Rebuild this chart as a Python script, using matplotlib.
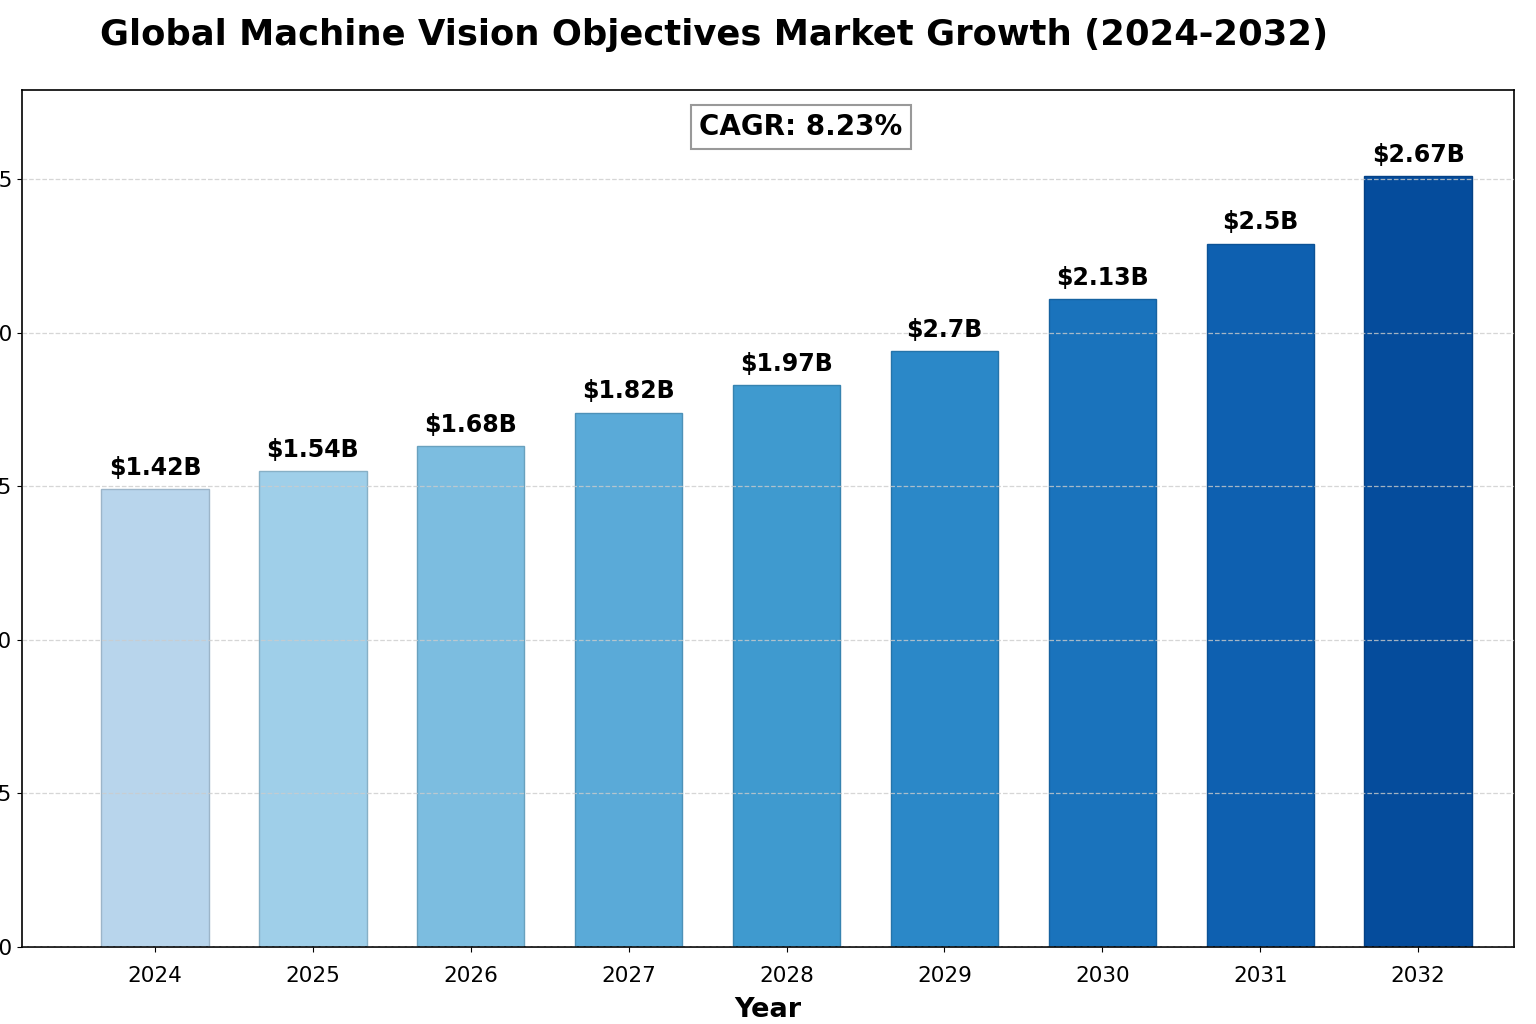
import numpy as np
import matplotlib
matplotlib.use("Agg")
import matplotlib.pyplot as plt
from matplotlib.colors import to_rgb

# data
years = ["2024", "2025", "2026", "2027", "2028", "2029", "2030", "2031", "2032"]
bar_heights = [1.49, 1.55, 1.63, 1.74, 1.83, 1.94, 2.11, 2.29, 2.51]
value_labels = ["$1.42B", "$1.54B", "$1.68B", "$1.82B", "$1.97B", "$2.7B", "$2.13B", "$2.5B", "$2.67B"]
y_ticks = [0, 0.5, 1.0, 1.5, 2.0, 2.5]
y_tick_labels = ["0.0", "0.5", "1.0", "1.5", "2.0", "2.5"]
cagr_text = "CAGR: 8.23%"

bar_colors = ["#b8d5ec", "#9fcfe9", "#7cbde0", "#5aaad8", "#3f9acf",
              "#2b88c8", "#1a73bc", "#0e60b0", "#054c9c"]

fig = plt.figure(figsize=(15.36, 10.24), dpi=100)
ax = fig.add_axes([22 / 1536, 77 / 1024, 1492 / 1536, 857 / 1024])

x = np.arange(len(years))
edge = [tuple(c * 0.85 for c in to_rgb(col)) for col in bar_colors]
bars = ax.bar(x, bar_heights, width=0.68, color=bar_colors, edgecolor=edge,
              linewidth=1, zorder=1)

# value labels on top of the bars
for xi, h, lab in zip(x, bar_heights, value_labels):
    ax.text(xi, h + 0.03, lab, ha="center", va="bottom",
            fontsize=17, fontweight="bold")

ax.set_xlim(-0.842, 8.607)
ax.set_ylim(0, 2.79)
ax.set_xticks(x)
ax.set_xticklabels(years, fontsize=15.5)
ax.tick_params(axis="x", pad=10)
ax.set_yticks(y_ticks)
ax.set_yticklabels(y_tick_labels, fontsize=15.5)
ax.set_xlabel("Year", fontsize=19.5, fontweight="bold", labelpad=8)

# grid sits over the bars, light dashed
ax.grid(axis="y", linestyle="--", color="#cccccc", alpha=0.8, linewidth=0.9, zorder=2)
ax.set_axisbelow(False)
for sp in ax.spines.values():
    sp.set_linewidth(1.2)

ax.text(0.522, 0.957, cagr_text, transform=ax.transAxes, ha="center", va="center",
        fontsize=20, fontweight="bold",
        bbox=dict(boxstyle="square,pad=0.3", facecolor="white", edgecolor="#999999", linewidth=1.5))

fig.text(714 / 1536, 1 - 35 / 1024, "Global Machine Vision Objectives Market Growth (2024-2032)",
         ha="center", va="center", fontsize=25.5, fontweight="bold")

fig.savefig("out.png", dpi=100)
